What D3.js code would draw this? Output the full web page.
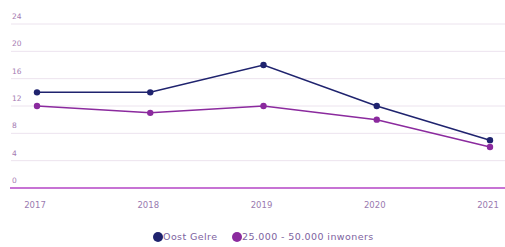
<!DOCTYPE html>
<html>
<head>
<meta charset="utf-8">
<script src="https://cdn.jsdelivr.net/npm/d3@7"></script>
<style>
  body { margin: 0; background: #fff; }
  text { font-family: "DejaVu Sans", sans-serif; }
</style>
</head>
<body>
<svg id="chart" width="505" height="247"></svg>
<script>
const years = ["2017", "2018", "2019", "2020", "2021"];
const oostGelre = [14, 14, 18, 12, 7];
const inwoners = [12, 11, 12, 10, 6];
const yTicks = [0, 4, 8, 12, 16, 20, 24];
const seriesNames = ["Oost Gelre", "25.000 - 50.000 inwoners"];
const seriesColors = ["#1f236e", "#8b2a9e"];

const svg = d3.select("#chart");
const width = 505;

const xScale = d3.scalePoint()
    .domain(years)
    .range([37, 490]);

const yScale = d3.scaleLinear()
    .domain([0, 24])
    .range([188, 24]);

// gridlines
svg.append("g")
    .selectAll("line")
    .data(yTicks.filter(d => d > 0))
    .enter()
    .append("line")
    .attr("x1", 11)
    .attr("x2", width)
    .attr("y1", d => yScale(d))
    .attr("y2", d => yScale(d))
    .attr("stroke", "#ece3ee")
    .attr("stroke-width", 1);

// y labels, sitting above their gridline
svg.append("g")
    .selectAll("text")
    .data(yTicks)
    .enter()
    .append("text")
    .attr("x", 12)
    .attr("y", d => yScale(d) - 5)
    .attr("fill", "#a57bb2")
    .style("font-size", "7.5px")
    .text(d => d);

// baseline
svg.append("line")
    .attr("x1", 10)
    .attr("x2", width)
    .attr("y1", yScale(0))
    .attr("y2", yScale(0))
    .attr("stroke", "#b544c6")
    .attr("stroke-width", 1.5);

// x labels
svg.append("g")
    .selectAll("text")
    .data(years)
    .enter()
    .append("text")
    .attr("x", d => xScale(d) - 2)
    .attr("y", 208)
    .attr("text-anchor", "middle")
    .attr("fill", "#9a7ab0")
    .style("font-size", "8.5px")
    .text(d => d);

const line = d3.line()
    .x((d, i) => xScale(years[i]))
    .y(d => yScale(d));

[oostGelre, inwoners].forEach((values, s) => {
    svg.append("path")
        .datum(values)
        .attr("d", line)
        .attr("fill", "none")
        .attr("stroke", seriesColors[s])
        .attr("stroke-width", 1.5);

    svg.append("g")
        .selectAll("circle")
        .data(values)
        .enter()
        .append("circle")
        .attr("cx", (d, i) => xScale(years[i]))
        .attr("cy", d => yScale(d))
        .attr("r", 3.2)
        .attr("fill", seriesColors[s]);
});

// legend
const legendX = [158, 237];
seriesNames.forEach((name, i) => {
    svg.append("circle")
        .attr("cx", legendX[i])
        .attr("cy", 237)
        .attr("r", 5)
        .attr("fill", seriesColors[i]);
    svg.append("text")
        .attr("x", legendX[i] + 5)
        .attr("y", 240)
        .attr("fill", "#7d62a0")
        .style("font-size", "9.5px")
        .style("letter-spacing", "0.4px")
        .text(name);
});
</script>
</body>
</html>
